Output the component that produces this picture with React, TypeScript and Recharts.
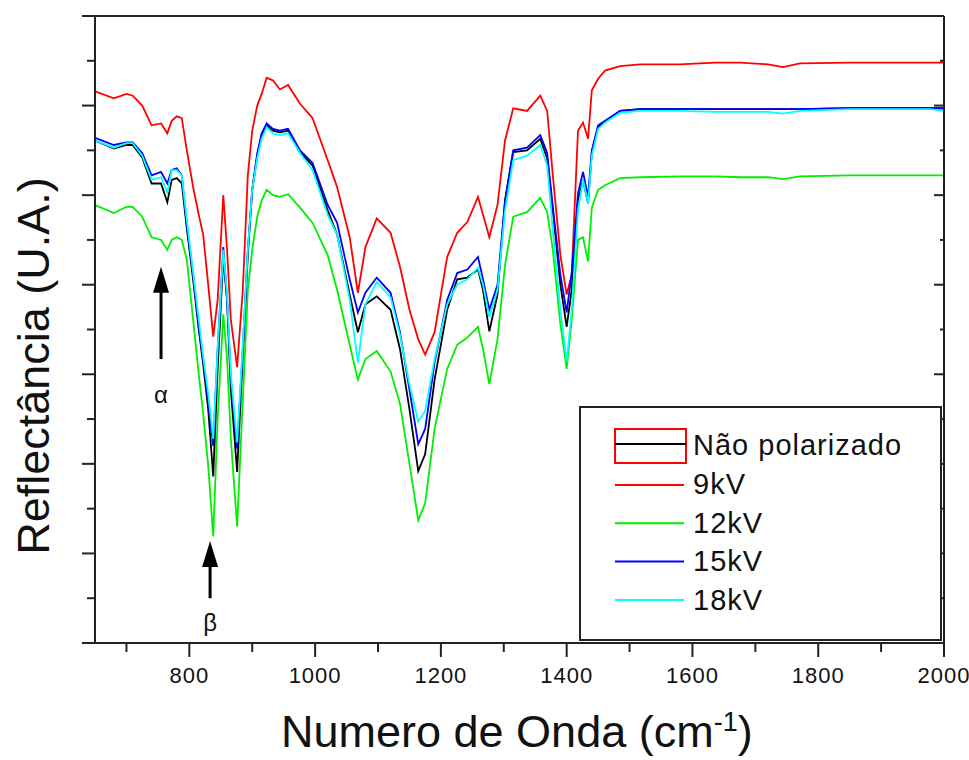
import React from 'react';
import {
    LineChart, Line, XAxis, YAxis, Legend, ReferenceLine, ReferenceDot,
} from 'recharts';

const FONT = "Arial, 'Liberation Sans', sans-serif";
const FRAME = '#222';

// numero de onda (cm-1)
const WAVENUMBER = [
    650, 680, 700, 710, 725, 740, 755, 765, 772, 780,
    788, 796, 806, 815, 822, 830, 838, 845, 854, 860,
    866, 876, 885, 893, 900, 908, 915, 923, 933, 944,
    957, 976, 996, 1020, 1035, 1055, 1068, 1080, 1098, 1120,
    1135, 1150, 1164, 1175, 1190, 1210, 1226, 1242, 1259, 1267,
    1277, 1290, 1302, 1315, 1337, 1358, 1369, 1378, 1390, 1400,
    1408, 1418, 1426, 1434, 1440, 1450, 1461, 1485, 1517, 1580,
    1636, 1676, 1720, 1744, 1771, 1850, 1978, 2000,
];

const NAO_POLARIZADO = [
    5.61, 5.52, 5.56, 5.56, 5.42, 5.13, 5.13, 4.92, 5.17, 5.19,
    5.13, 4.63, 4.06, 3.50, 3.11, 2.61, 1.86, 3.06, 4.30, 3.83,
    2.83, 1.91, 3.22, 4.33, 5.06, 5.44, 5.67, 5.78, 5.72, 5.70,
    5.72, 5.48, 5.33, 4.83, 4.56, 3.89, 3.47, 3.78, 3.87, 3.72,
    3.28, 2.61, 1.92, 2.11, 2.94, 3.72, 4.06, 4.08, 4.17, 3.94,
    3.48, 3.89, 4.94, 5.48, 5.50, 5.63, 5.41, 4.83, 4.00, 3.53,
    3.94, 4.94, 5.17, 4.91, 5.48, 5.76, 5.82, 5.94, 5.96, 5.96,
    5.96, 5.96, 5.96, 5.96, 5.96, 5.97, 5.97, 5.97,
];

const KV9 = [
    6.16, 6.08, 6.13, 6.11, 6.00, 5.78, 5.80, 5.69, 5.83, 5.88,
    5.86, 5.50, 5.09, 4.78, 4.56, 4.00, 3.42, 3.83, 5.00, 4.39,
    3.61, 3.08, 3.94, 5.22, 5.72, 6.00, 6.13, 6.31, 6.28, 6.18,
    6.23, 6.02, 5.86, 5.39, 5.09, 4.53, 3.91, 4.42, 4.74, 4.58,
    4.20, 3.72, 3.39, 3.22, 3.47, 4.31, 4.58, 4.70, 4.98, 4.78,
    4.53, 4.89, 5.61, 5.97, 5.94, 6.11, 5.94, 5.22, 4.33, 3.89,
    4.11, 5.72, 5.81, 5.63, 6.17, 6.30, 6.39, 6.44, 6.46, 6.46,
    6.48, 6.48, 6.46, 6.43, 6.47, 6.48, 6.48, 6.48,
];

const KV12 = [
    4.89, 4.80, 4.87, 4.87, 4.76, 4.53, 4.50, 4.39, 4.50, 4.53,
    4.50, 4.28, 3.61, 3.00, 2.56, 1.98, 1.19, 2.50, 3.67, 3.17,
    2.28, 1.30, 2.72, 3.94, 4.39, 4.76, 4.94, 5.06, 5.00, 4.98,
    5.01, 4.86, 4.69, 4.33, 3.94, 3.33, 2.94, 3.17, 3.26, 3.03,
    2.67, 2.00, 1.37, 1.56, 2.39, 3.06, 3.33, 3.41, 3.53, 3.28,
    2.89, 3.39, 4.22, 4.76, 4.81, 4.97, 4.81, 4.39, 3.56, 3.06,
    3.61, 4.50, 4.53, 4.26, 4.86, 5.06, 5.11, 5.19, 5.20, 5.21,
    5.21, 5.20, 5.20, 5.18, 5.21, 5.22, 5.22, 5.22,
];

const KV15 = [
    5.64, 5.56, 5.59, 5.59, 5.47, 5.22, 5.26, 5.13, 5.28, 5.30,
    5.22, 4.67, 4.11, 3.53, 3.17, 2.69, 2.20, 3.28, 4.42, 3.83,
    2.94, 2.17, 3.28, 4.39, 5.06, 5.47, 5.69, 5.80, 5.74, 5.72,
    5.74, 5.50, 5.36, 4.89, 4.69, 4.06, 3.69, 3.91, 4.08, 3.91,
    3.47, 2.83, 2.22, 2.39, 3.13, 3.83, 4.13, 4.17, 4.31, 4.06,
    3.72, 4.00, 4.94, 5.50, 5.53, 5.67, 5.47, 4.87, 4.11, 3.69,
    4.13, 5.02, 5.26, 4.98, 5.50, 5.78, 5.83, 5.94, 5.96, 5.96,
    5.96, 5.96, 5.96, 5.96, 5.96, 5.97, 5.97, 5.97,
];

const KV18 = [
    5.61, 5.53, 5.58, 5.58, 5.44, 5.17, 5.20, 5.03, 5.28, 5.28,
    5.22, 4.72, 4.14, 3.61, 3.20, 2.78, 2.28, 3.28, 4.39, 3.89,
    3.00, 2.24, 3.33, 4.39, 5.06, 5.41, 5.63, 5.76, 5.69, 5.67,
    5.69, 5.47, 5.28, 4.78, 4.56, 3.83, 3.13, 3.78, 4.03, 3.86,
    3.44, 2.89, 2.47, 2.59, 3.17, 3.78, 4.00, 4.06, 4.19, 4.00,
    3.64, 3.94, 4.83, 5.39, 5.44, 5.56, 5.33, 4.61, 3.72, 3.14,
    3.72, 4.83, 5.17, 4.91, 5.44, 5.74, 5.81, 5.92, 5.94, 5.94,
    5.93, 5.93, 5.93, 5.91, 5.94, 5.96, 5.96, 5.94,
];

const X_TICKS = [700, 800, 900, 1000, 1100, 1200, 1300, 1400, 1500, 1600, 1700, 1800, 1900, 2000];
const Y_TICKS = [0, 0.5, 1, 1.5, 2, 2.5, 3, 3.5, 4, 4.5, 5, 5.5, 6, 6.5, 7];

// legend order
const SERIES = [
    { key: 'nao', name: 'Não polarizado', color: '#000000' },
    { key: 'kv9', name: '9kV', color: '#ff0000' },
    { key: 'kv12', name: '12kV', color: '#00ee00' },
    { key: 'kv15', name: '15kV', color: '#0000ff' },
    { key: 'kv18', name: '18kV', color: '#00ffff' },
];
// drawing order
const DRAW_ORDER = ['kv9', 'kv12', 'nao', 'kv15', 'kv18'];

const data = WAVENUMBER.map((x, i) => ({
    x,
    nao: NAO_POLARIZADO[i],
    kv9: KV9[i],
    kv12: KV12[i],
    kv15: KV15[i],
    kv18: KV18[i],
}));

const isMajorX = (v: number) => v % 200 === 0;
const isMajorY = (v: number) => Number.isInteger(v);

const BottomTick = (props: any) => {
    const { x, y, payload } = props;
    const major = isMajorX(payload.value);
    return (
        <g>
            <line x1={x} y1={y} x2={x} y2={y + (major ? 14 : 9)} stroke={FRAME} strokeWidth={2} />
            {major && (
                <text x={x} y={y + 40} textAnchor="middle" fontSize={22} fontFamily={FONT}
                    letterSpacing={1} fill="#111">
                    {payload.value}
                </text>
            )}
        </g>
    );
};

const TopTick = (props: any) => {
    const { x, y, payload } = props;
    return <line x1={x} y1={y} x2={x} y2={y + (isMajorX(payload.value) ? 11 : 6)} stroke={FRAME} strokeWidth={2} />;
};

const LeftTick = (props: any) => {
    const { x, y, payload } = props;
    return <line x1={x} y1={y} x2={x - (isMajorY(payload.value) ? 13 : 8)} y2={y} stroke={FRAME} strokeWidth={2} />;
};

const RightTick = (props: any) => {
    const { x, y, payload } = props;
    return <line x1={x} y1={y} x2={x - (isMajorY(payload.value) ? 10 : 4)} y2={y} stroke={FRAME} strokeWidth={2} />;
};

const xTitle = () => (
    <text x={281} y={747} fontSize={45} fontFamily={FONT} fill="#111">
        <tspan>Numero de Onda (cm</tspan>
        <tspan dy={-16} fontSize={27}>-1</tspan>
        <tspan dy={16}>)</tspan>
    </text>
);

const yTitle = () => (
    <text x={49} y={366} transform="rotate(-90, 49, 366)" textAnchor="middle" fontSize={45}
        fontFamily={FONT} fill="#111">
        Reflectância (U.A.)
    </text>
);

const arrowHead = (props: any) => {
    const { cx, cy } = props;
    return <polygon points={`${cx},${cy} ${cx - 8},${cy + 26} ${cx + 8},${cy + 26}`} fill="#000" />;
};

const greekLabel = (letter: string) => (props: any) => (
    <text x={props.cx} y={props.cy} textAnchor="middle" dominantBaseline="central" fontSize={24}
        fontFamily={FONT} fill="#111">
        {letter}
    </text>
);

const LegendBox = () => {
    const rows = SERIES.slice(1);
    return (
        <div style={{
            width: 363, height: 235, boxSizing: 'border-box', border: `2px solid ${FRAME}`, background: '#fff',
        }}>
            <svg width={359} height={231} style={{ display: 'block' }}>
                <rect x={34} y={21} width={71} height={34} fill="none" stroke="#ff0000" strokeWidth={2} />
                <line x1={34} x2={105} y1={36} y2={36} stroke="#000" strokeWidth={2} />
                <text x={112} y={47} fontSize={29} fontFamily={FONT} letterSpacing={1} fill="#111">
                    {SERIES[0].name}
                </text>
                {rows.map((s, i) => (
                    <g key={s.key}>
                        <line x1={34} x2={103} y1={77 + i * 38.3} y2={77 + i * 38.3} stroke={s.color} strokeWidth={2} />
                        <text x={112} y={86 + i * 38.7} fontSize={29} fontFamily={FONT} letterSpacing={1} fill="#111">
                            {s.name}
                        </text>
                    </g>
                ))}
            </svg>
        </div>
    );
};

const App: React.FC = () => (
    <div style={{ position: 'absolute', left: 0, top: 0, width: 969, height: 760, overflow: 'hidden', background: '#fff' }}>
        <LineChart width={969} height={760} data={data} margin={{ top: 10, right: 20, bottom: 57, left: 35 }}>
            <XAxis xAxisId="b" dataKey="x" type="number" domain={[650, 2000]} allowDataOverflow
                ticks={X_TICKS} interval={0} tickSize={0} tickMargin={0} tick={<BottomTick />} tickLine={false}
                axisLine={{ stroke: FRAME, strokeWidth: 2 }} height={60} label={xTitle} />
            <XAxis xAxisId="t" orientation="top" type="number" domain={[650, 2000]} allowDataOverflow
                ticks={X_TICKS} interval={0} tickSize={0} tickMargin={0} tick={<TopTick />} tickLine={false}
                axisLine={{ stroke: FRAME, strokeWidth: 2 }} height={6} />
            <YAxis yAxisId="l" type="number" domain={[0, 7]} allowDataOverflow
                ticks={Y_TICKS} interval={0} tickSize={0} tickMargin={0} tick={<LeftTick />} tickLine={false}
                axisLine={{ stroke: FRAME, strokeWidth: 2 }} width={60} label={yTitle} />
            <YAxis yAxisId="r" orientation="right" type="number" domain={[0, 7]} allowDataOverflow
                ticks={Y_TICKS} interval={0} tickSize={0} tickMargin={0} tick={<RightTick />} tickLine={false}
                axisLine={{ stroke: FRAME, strokeWidth: 2 }} width={5} />

            {DRAW_ORDER.map((k) => {
                const s = SERIES.find((e) => e.key === k)!;
                return (
                    <Line key={k} xAxisId="b" yAxisId="l" type="linear" dataKey={k} name={s.name}
                        stroke={s.color} strokeWidth={1.8} dot={false} isAnimationActive={false} />
                );
            })}

            {/* alpha arrow */}
            <ReferenceLine xAxisId="b" yAxisId="l" segment={[{ x: 755, y: 3.17 }, { x: 755, y: 3.98 }]}
                stroke="#000" strokeWidth={3} />
            <ReferenceDot xAxisId="b" yAxisId="l" x={755} y={4.2} r={0} shape={arrowHead} />
            <ReferenceDot xAxisId="b" yAxisId="l" x={755} y={2.77} r={0} shape={greekLabel('α')} />

            {/* beta arrow */}
            <ReferenceLine xAxisId="b" yAxisId="l" segment={[{ x: 833, y: 0.5 }, { x: 833, y: 0.95 }]}
                stroke="#000" strokeWidth={3} />
            <ReferenceDot xAxisId="b" yAxisId="l" x={833} y={1.14} r={0} shape={arrowHead} />
            <ReferenceDot xAxisId="b" yAxisId="l" x={833} y={0.23} r={0} shape={greekLabel('β')} />

            <Legend layout="vertical" align="center" verticalAlign="middle" content={<LegendBox />}
                wrapperStyle={{ position: 'absolute', left: 579, top: 406, width: 363, height: 235 }} />
        </LineChart>
    </div>
);

export default App;
